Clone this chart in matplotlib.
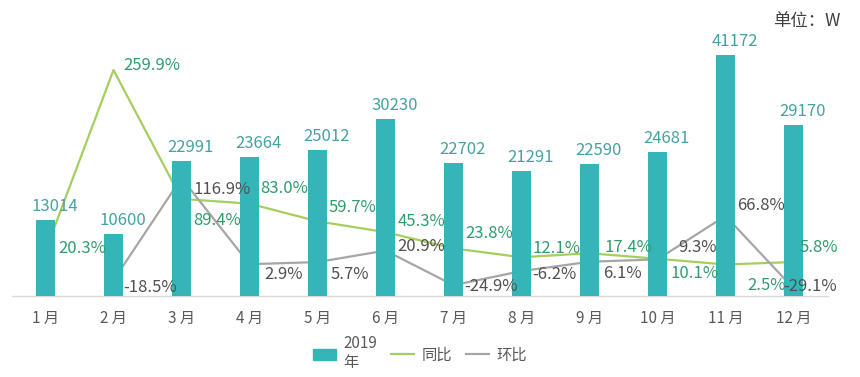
import matplotlib
matplotlib.use("Agg")
import matplotlib.pyplot as plt
import numpy as np
from matplotlib.patches import Patch
from matplotlib.lines import Line2D

plt.rcParams['font.family'] = ['Noto Sans CJK SC', 'DejaVu Sans']

# ---- data ----
months = ["1 月", "2 月", "3 月", "4 月", "5 月", "6 月", "7 月", "8 月", "9 月", "10 月", "11 月", "12 月"]
sales_2019 = [13014, 10600, 22991, 23664, 25012, 30230, 22702, 21291, 22590, 24681, 41172, 29170]
yoy = [20.3, 259.9, 89.4, 83.0, 59.7, 45.3, 23.8, 12.1, 17.4, 10.1, 2.5, 5.8]
mom = [np.nan, -18.5, 116.9, 2.9, 5.7, 20.9, -24.9, -6.2, 6.1, 9.3, 66.8, -29.1]

# ---- style ----
bar_color = "#35b5b7"
yoy_color = "#a4cf5e"
mom_color = "#a6a6a6"
val_color = "#46a1a3"
yoy_txt = "#2f9c6c"
mom_txt = "#505050"

yoy_off = [(13, 4), (10, 6), (12, -21), (11, 16), (11, 15), (12, 12), (12, 16),
           (11, 10), (15, 7), (13, -14), (22, -20), (6, 16)]
mom_off = [(0, 0), (10, -6), (12, -10), (15, -9), (13, -11), (12, 5), (11, 0),
           (11, -2), (14, -11), (21, 13), (12, 11), (-10, 3)]

W, H = 860, 377
fig = plt.figure(figsize=(W / 100, H / 100), dpi=100)
ax = fig.add_axes([11.5 / W, (H - 296) / H, 816 / W, 276 / H])
ax2 = ax.twinx()
ax2.set_zorder(ax.get_zorder() - 1)
ax.patch.set_visible(False)
ax2.patch.set_visible(False)

x = np.arange(len(months))
ax.bar(x, sales_2019, width=0.29, color=bar_color, zorder=3)
ax.set_xlim(-0.5, 11.5)
ax.set_ylim(0, 47150)

ax2.plot(x, yoy, color=yoy_color, lw=1.6)
ax2.plot(x, mom, color=mom_color, lw=1.6)
ax2.set_ylim(-39.2, 326.1)

for a in (ax, ax2):
    for s in ("top", "right", "left"):
        a.spines[s].set_visible(False)
    a.set_yticks([])
ax2.spines["bottom"].set_visible(False)
ax.spines["bottom"].set_color("#d9d9d9")
ax.spines["bottom"].set_linewidth(1.0)

ax.set_xticks(x)
ax.set_xticklabels(months, fontsize=11, color="#595959")
ax.tick_params(axis="x", length=0, pad=10)

for i, v in enumerate(sales_2019):
    ax.annotate(str(v), xy=(i, v), xytext=(9, 5), textcoords="offset pixels",
                ha="center", va="bottom", fontsize=12, color=val_color, zorder=5)

for i, v in enumerate(yoy):
    dx, dy = yoy_off[i]
    ax.annotate(f"{v:.1f}%", xy=(i, v), xycoords=ax2.transData, xytext=(dx, dy - 1),
                textcoords="offset pixels", ha="left", va="center", fontsize=12,
                color=yoy_txt, zorder=6)

for i, v in enumerate(mom):
    if np.isnan(v):
        continue
    dx, dy = mom_off[i]
    ax.annotate(f"{v:.1f}%", xy=(i, v), xycoords=ax2.transData, xytext=(dx, dy - 1),
                textcoords="offset pixels", ha="left", va="center", fontsize=12,
                color=mom_txt, zorder=6)

handles = [Patch(color=bar_color), Line2D([], [], color=yoy_color, lw=1.6),
           Line2D([], [], color=mom_color, lw=1.6)]
fig.legend(handles, ["2019\n年", "同比", "环比"], loc="center", bbox_to_anchor=(420 / W, 1 - 353 / H),
           ncol=3, frameon=False, fontsize=11, labelcolor="#595959", handlelength=1.5,
           handletextpad=0.5, columnspacing=0.9)

fig.text(773 / W, 1 - 21 / H, "单位：W", fontsize=12.5, color="#404040", ha="left", va="center")

fig.savefig("out.png", dpi=100)
